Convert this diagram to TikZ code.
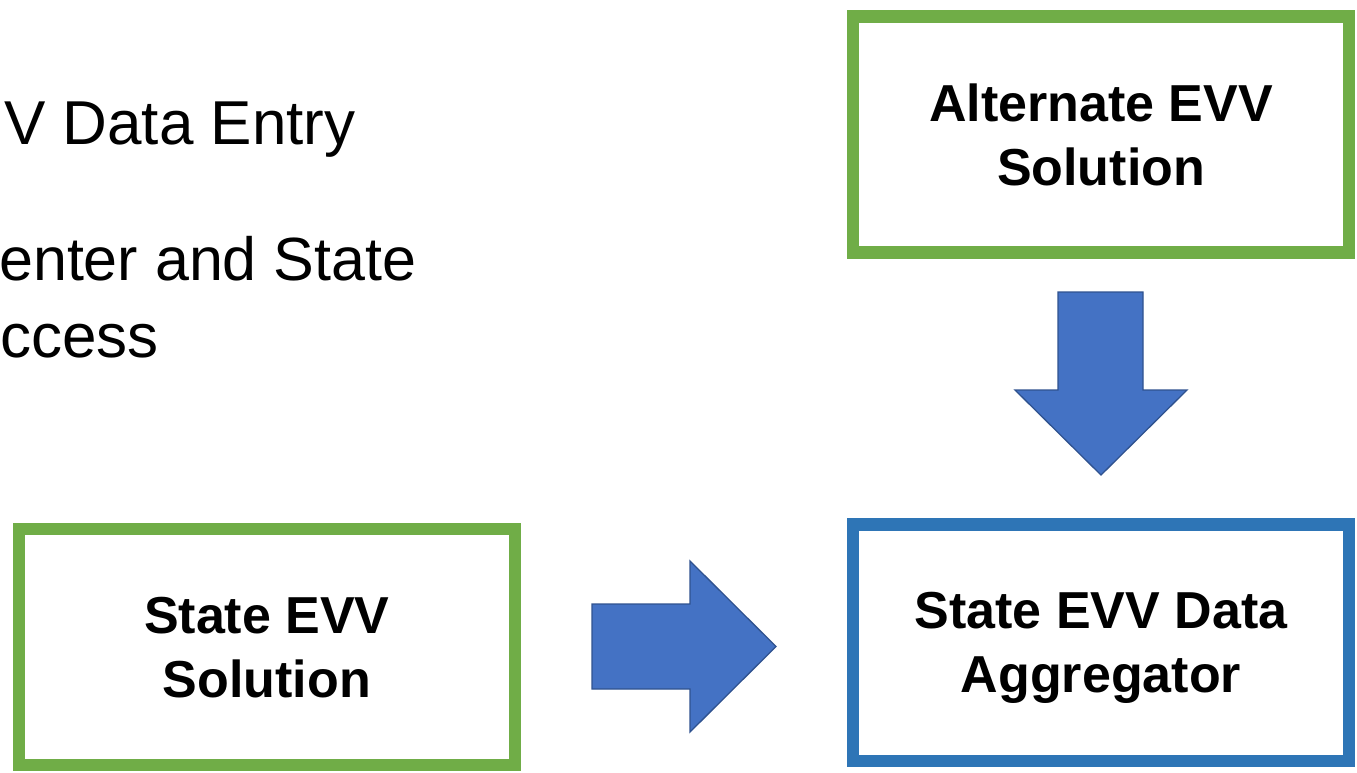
\documentclass[tikz,border=0pt]{standalone}
\usepackage{fontspec}
\setmainfont{Liberation Sans}
\definecolor{boxgreen}{HTML}{70AD47}
\definecolor{boxblue}{HTML}{2E75B6}
\definecolor{arrowfill}{HTML}{4472C4}
\definecolor{arrowline}{HTML}{2F528F}
\tikzset{
  evvbox/.style={draw=boxgreen, line width=12.3pt, fill=white, rectangle, inner sep=0pt,
    align=center, text depth=0pt, font=\fontsize{52}{64}\selectfont\bfseries},
  aggbox/.style={evvbox, draw=boxblue},
  bigtext/.style={anchor=base west, inner sep=0pt, font=\fontsize{62}{74}\selectfont},
  blockarrow/.style={fill=arrowfill, draw=arrowline, line width=1.3pt, line join=miter}
}
\begin{document}
\begin{tikzpicture}[x=1pt,y=-1pt]
\useasboundingbox (0,0) rectangle (1357,772);
\node[bigtext] (t1) at (4,144) {V Data Entry};
\node[bigtext, font=\fontsize{61}{73}\selectfont] (t2) at (-1,280) {enter and State};
\node[bigtext] (t3) at (0,357) {ccess};

\node[evvbox, minimum width=496pt, minimum height=236pt] (alt) at (1101,134.4) {Alternate EVV\\Solution};
\node[evvbox, minimum width=496.3pt, minimum height=236.3pt] (state) at (266.85,646.85) {State EVV\\Solution};
\node[aggbox, minimum width=496pt, minimum height=236.5pt] (agg) at (1101,642.75) {State EVV Data\\Aggregator};

% down arrow
\draw[blockarrow] (1058,292) -- (1143,292) -- (1143,390) -- (1187,390) -- (1101,475) -- (1015,390) -- (1058,390) -- cycle;
% right arrow
\draw[blockarrow] (592,604) -- (690,604) -- (690,561) -- (776,646.5) -- (690,732) -- (690,689) -- (592,689) -- cycle;
\end{tikzpicture}
\end{document}
